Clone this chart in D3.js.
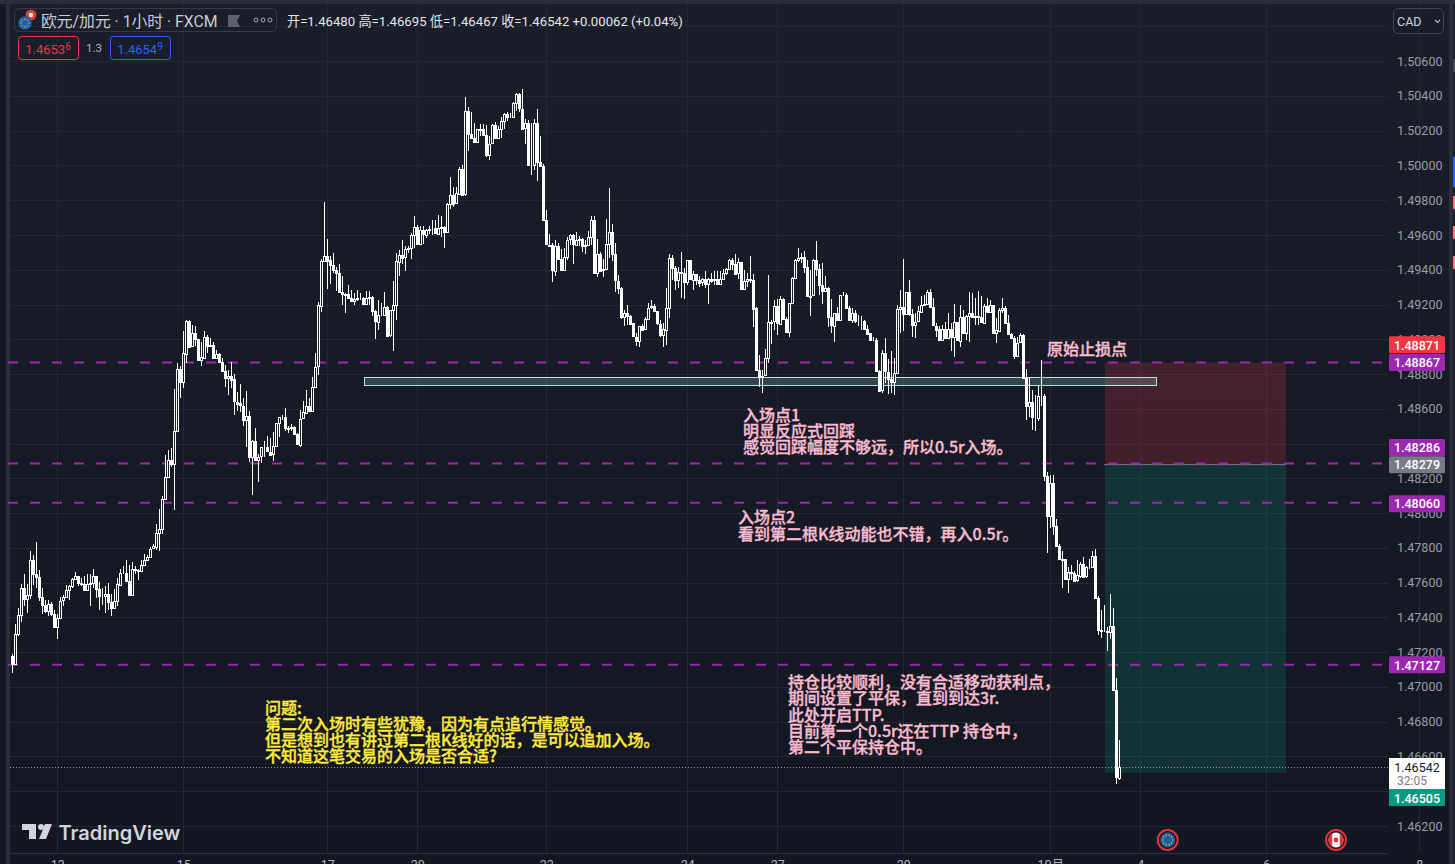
<!DOCTYPE html>
<html><head><meta charset="utf-8">
<style>html,body{margin:0;padding:0;background:#131722;overflow:hidden}svg{display:block}
text{font-family:Roboto,"Noto Sans CJK SC",sans-serif}
.cjk{font-family:"Noto Sans CJK SC",sans-serif}</style>
<script src="https://cdn.jsdelivr.net/npm/d3@7/dist/d3.min.js"></script></head><body>
<script>
// Candle values, in 0.00001 price points, one entry per hour
const firstOpen = 147180;
const closes = [
147132,147305,147415,147570,147505,147530,147732,147651,147632,147517,
147472,147436,147478,147420,147344,147397,147497,147517,147559,147580,
147622,147640,147599,147593,147559,147593,147597,147640,147565,147522,
147522,147536,147488,147455,147494,147590,147657,147657,147609,147528,
147680,147674,147668,147703,147732,147747,147795,147809,147888,147911,
148084,148209,148305,148282,148474,148828,148751,148920,149107,148959,
149036,149001,148878,148897,149016,148962,148968,148895,148916,148872,
148820,148780,148791,148770,148641,148632,148618,148540,148561,148324,
148417,148309,148324,148378,148378,148353,148338,148386,148517,148551,
148551,148486,148490,148494,148453,148396,148544,148580,148618,148590,
148728,148843,149195,149453,149481,149455,149426,149397,149381,149270,
149257,149260,149237,149222,149232,149235,149235,149203,149237,149243,
149160,149103,149141,149141,149185,149020,149166,149195,149449,149487,
149472,149520,149526,149599,149645,149545,149627,149602,149631,149637,
149639,149608,149641,149646,149616,149779,149831,149781,149839,149981,
149833,150313,150179,150156,150131,150208,150212,150175,150060,150125,
150231,150158,150208,150256,150298,150279,150279,150358,150410,150327,
150213,150242,150002,150002,150246,150021,149996,149685,149545,149541,
149397,149539,149464,149400,149473,149573,149598,149545,149573,149579,
149541,149545,149589,149689,149385,149493,149397,149404,149550,149618,
149489,149337,149295,149127,149151,149135,149091,149016,148993,149079,
149058,149118,149183,149189,149160,149089,149026,149058,149183,149468,
149410,149343,149387,149381,149329,149454,149343,149377,149343,149327,
149347,149318,149348,149339,149347,149318,149347,149381,149404,149458,
149433,149377,149443,149285,149333,149347,149343,149179,148824,148785,
148791,148891,149099,149102,149189,149089,149231,149116,149039,149208,
149352,149458,149468,149473,149416,149247,149252,149454,149404,149310,
149275,149295,149127,149079,149151,149112,149254,149254,149179,149112,
149154,149108,149108,149108,149062,149035,148997,148997,148820,148705,
148920,148814,148772,148753,148805,149174,149185,149145,149272,149145,
149083,149102,149160,149199,149204,149272,149185,149079,149058,148997,
149058,149006,149058,149012,149099,148993,149131,149039,149135,149154,
149131,149135,149127,149097,149193,149158,149197,149035,149051,149170,
149179,149093,149031,149006,148904,148981,149024,148776,148613,148638,
148551,148551,148676,148676,148215,147984,148174,147926,147809,147734,
147738,147623,147661,147657,147613,147642,147709,147636,147690,147690,
147752,147510,147328,147324,147324,147318,147353,146983,146480,146542];
const highs = [
147190,147363,147455,147590,147647,147593,147780,147757,147832,147670,
147567,147503,147503,147486,147440,147420,147520,147528,147584,147584,
147628,147659,147640,147628,147636,147651,147651,147680,147640,147603,
147567,147578,147599,147532,147561,147628,147680,147693,147728,147699,
147717,147693,147680,147728,147763,147757,147805,147820,147936,148022,
148098,148334,148363,148372,148713,148863,148847,149049,149112,149112,
149084,149074,149001,148987,149045,149026,149007,148982,148939,148920,
148891,148853,148824,148872,148801,148699,148741,148661,148703,148588,
148420,148492,148338,148378,148415,148444,148430,148468,148517,148555,
148565,148603,148501,148511,148501,148459,148593,148647,148709,148661,
148786,148920,149212,149464,149791,149578,149478,149497,149416,149433,
149362,149266,149314,149285,149266,149285,149266,149243,149276,149276,
149247,149170,149228,149209,149272,149189,149166,149333,149497,149512,
149574,149535,149539,149612,149712,149660,149654,149650,149635,149650,
149689,149689,149718,149712,149650,149785,149935,149877,149877,149989,
150000,150392,150338,150310,150246,150212,150237,150237,150231,150169,
150237,150250,150227,150281,150304,150308,150304,150367,150419,150415,
150442,150269,150262,150242,150265,150323,150169,150006,149746,149608,
149554,149573,149554,149522,149525,149589,149608,149608,149616,149593,
149583,149570,149621,149712,149712,149577,149500,149464,149693,149868,
149666,149554,149372,149300,149166,149199,149141,149093,149035,149079,
149089,149127,149208,149227,149204,149164,149112,149093,149295,149493,
149487,149420,149416,149502,149410,149458,149458,149391,149377,149362,
149352,149391,149352,149381,149395,149391,149395,149404,149410,149462,
149468,149493,149468,149443,149400,149381,149477,149377,149185,148910,
148824,148943,149372,149112,149224,149231,149247,149237,149131,149208,
149356,149462,149525,149496,149506,149454,149400,149462,149568,149433,
149439,149362,149300,149231,149151,149185,149256,149272,149266,149193,
149179,149170,149141,149135,149112,149083,149039,149016,149006,148824,
148939,149010,148887,148930,148891,149199,149281,149464,149275,149343,
149174,149151,149193,149250,149256,149281,149289,149237,149093,149074,
149083,149102,149151,149093,149204,149102,149199,149170,149141,149272,
149266,149237,149279,149247,149204,149237,149224,149174,149122,149179,
149237,149189,149141,149039,149020,149016,149039,149031,148830,148786,
148709,148680,148738,148882,148686,148234,148222,148219,147969,147825,
147782,147738,147690,147700,147665,147728,147719,147748,147694,147738,
147782,147796,147526,147443,147474,147343,147532,147455,147053,146695];
const lows = [
147078,147132,147292,147372,147463,147424,147505,147584,147569,147497,
147417,147424,147411,147411,147344,147273,147397,147463,147517,147503,
147570,147613,147578,147582,147559,147559,147463,147570,147511,147440,
147469,147424,147440,147407,147447,147465,147584,147651,147609,147528,
147528,147647,147613,147668,147703,147732,147741,147791,147786,147782,
147878,148084,148209,148267,148016,148474,148661,148718,148863,148959,
148959,148959,148878,148849,148897,148920,148959,148895,148895,148866,
148820,148728,148680,148718,148565,148590,148584,148501,148382,148295,
148107,148305,148180,148286,148324,148353,148338,148301,148382,148436,
148536,148474,148459,148470,148453,148396,148382,148544,148580,148582,
148590,148728,148795,149155,149453,149291,149320,149381,149276,149266,
149195,149151,149237,149222,149199,149218,149228,149199,149203,149199,
149132,149003,149051,149132,149147,149016,149016,148930,149109,149366,
149435,149391,149497,149464,149526,149545,149577,149550,149581,149608,
149602,149608,149602,149589,149525,149616,149750,149762,149781,149833,
149833,149827,150083,150150,150131,150131,150169,150175,150048,150031,
150125,150158,150158,150160,150208,150256,150275,150273,150313,150310,
150210,150121,150002,149948,149973,149910,149992,149683,149545,149535,
149327,149366,149464,149397,149400,149454,149545,149435,149541,149535,
149504,149493,149541,149545,149385,149356,149397,149356,149400,149468,
149448,149272,149262,149116,149074,149083,149083,149012,148962,148953,
149058,149058,149118,149174,149160,149085,149016,148954,148968,149122,
149343,149285,149295,149237,149231,149314,149339,149285,149314,149300,
149304,149295,149204,149323,149314,149314,149314,149343,149372,149400,
149397,149377,149348,149285,149281,149300,149323,149068,148820,148728,
148689,148791,148862,148974,149054,149024,149089,149112,149035,149016,
149208,149352,149445,149439,149381,149243,149135,149247,149362,149256,
149204,149270,149070,149039,148987,149108,149108,149247,149174,149103,
149093,149093,149074,149054,149062,149031,148993,148993,148816,148701,
148693,148747,148683,148689,148680,148805,149035,149049,149141,149135,
149012,149010,149097,149151,149193,149199,149179,149074,149016,148993,
148993,149002,149016,148930,148901,148993,148954,149035,148997,148987,
149127,149083,149083,149093,149093,149151,149154,149031,148977,149045,
149151,149089,149026,149002,148889,148901,148977,148772,148536,148555,
148478,148474,148530,148618,148186,147771,147915,147873,147805,147728,
147572,147617,147538,147613,147610,147604,147628,147632,147628,147680,
147690,147507,147301,147280,147314,147205,147276,146977,146440,146467];
const opens = [firstOpen, ...closes.slice(0, -1)];

const priceLabels = [1.506,1.504,1.502,1.5,1.498,1.496,1.494,1.492,1.49,1.488,1.486,1.484,1.482,1.48,1.478,1.476,1.474,1.472,1.47,1.468,1.466,1.464,1.462];
const gridPrices = [1.508, ...priceLabels];
const timeLabels = ["13","15","17","20","22","24","27","29","10月","4","6","8"];
const timeIndex = [15,57,105,135,178,225,255,297,346,376,418,469];
const dashedLevels = [1.48867,1.48286,1.4806,1.47127];
const entryPrice = 1.48279, stopPrice = 1.48867, targetPrice = 1.46505;
const lastPrice = 1.46542;
const zoneTop = 1.48786;

const badges = [
 {t:"1.48871",c:"#f23645",p:1.48871,s:-17},
 {t:"1.48867",c:"#9c27b0",p:1.48867,s:0},
 {t:"1.48286",c:"#9c27b0",p:1.48286,s:-16},
 {t:"1.48279",c:"#787b86",p:1.48279,s:0},
 {t:"1.48060",c:"#9c27b0",p:1.4806,s:1},
 {t:"1.47127",c:"#9c27b0",p:1.47127,s:0}];

const W=1455,H=864;
const svg=d3.select("body").append("svg").attr("width",W).attr("height",H);
const y=d3.scaleLinear().domain([1.506,1.462]).range([61.2,826]);
const x=d3.scaleLinear().domain([0,369]).range([12.3,1119.3]);
const crisp=v=>Math.round(v)+0.5;

// background
const defs=svg.append("defs");
const g0=defs.append("linearGradient").attr("id","bg").attr("x1",0).attr("x2",0).attr("y1",0).attr("y2",1);
g0.append("stop").attr("offset",0).attr("stop-color","#1a1e2a");
g0.append("stop").attr("offset",1).attr("stop-color","#131722");
svg.append("rect").attr("width",W).attr("height",H).attr("fill","url(#bg)");
svg.append("rect").attr("width",W).attr("height",4).attr("fill","#2a2e39");
svg.append("rect").attr("x",0).attr("y",4).attr("width",6).attr("height",H).attr("fill","#131722");
svg.append("rect").attr("x",6).attr("y",4).attr("width",4).attr("height",H).attr("fill","#2a2e39");
svg.append("rect").attr("x",1449).attr("y",4).attr("width",4).attr("height",H).attr("fill","#2a2e39");
svg.append("rect").attr("x",1453).attr("y",4).attr("width",2).attr("height",H).attr("fill","#1c2030");

const sideMarks=[[59,13,"#434651"],[157,30,"#2962ff"],[196,13,"#f77c80"],[226,13,"#f77c80"],[256,13,"#f77c80"]];
svg.append("g").selectAll("rect").data(sideMarks).join("rect")
 .attr("x",1453).attr("width",2).attr("y",d=>d[0]).attr("height",d=>d[1]).attr("fill",d=>d[2]);

// grid
const gridC="#242833";
svg.append("g").selectAll("line").data(gridPrices).join("line")
 .attr("x1",10).attr("x2",1388).attr("y1",d=>crisp(y(d))).attr("y2",d=>crisp(y(d)))
 .attr("stroke",gridC);
svg.append("g").selectAll("line").data(timeIndex).join("line")
 .attr("x1",d=>crisp(x(d))).attr("x2",d=>crisp(x(d))).attr("y1",4).attr("y2",853)
 .attr("stroke",gridC);
svg.append("line").attr("x1",10).attr("x2",1388).attr("y1",853.5).attr("y2",853.5).attr("stroke","#2f333e");

// price axis
const yAxis=d3.axisRight(y).tickValues(priceLabels).tickSize(0).tickPadding(9).tickFormat(d3.format(".5f"));
const ya=svg.append("g").attr("transform","translate(1388,0)").call(yAxis);
ya.select(".domain").remove();
ya.selectAll("text").attr("fill","#9a9da6").style("font-size","12.5px").style("font-family","Roboto,sans-serif");

// time axis
const xAxis=d3.axisBottom(x).tickValues(timeIndex).tickSize(0).tickPadding(0)
 .tickFormat((d,i)=>timeLabels[i]);
const xa=svg.append("g").attr("transform","translate(0,860)").call(xAxis);
xa.select(".domain").remove();
xa.selectAll("text").attr("fill","#b2b5be").style("font-size","12.5px").style("font-family","Roboto,'Noto Sans CJK SC',sans-serif");

// position tool
const bx0=1105,bx1=1286;
svg.append("rect").attr("x",bx0).attr("width",bx1-bx0).attr("y",y(stopPrice)).attr("height",y(entryPrice)-y(stopPrice))
 .attr("fill","#f23645").attr("fill-opacity",.2);
svg.append("rect").attr("x",bx0).attr("width",bx1-bx0).attr("y",y(entryPrice)).attr("height",y(targetPrice)-y(entryPrice))
 .attr("fill","#089981").attr("fill-opacity",.2);
svg.append("line").attr("x1",bx0-1).attr("x2",bx1).attr("y1",y(entryPrice)).attr("y2",y(entryPrice))
 .attr("stroke","#787b86").attr("stroke-width",1);

// dashed levels
svg.append("g").selectAll("line").data(dashedLevels).join("line")
 .attr("x1",8).attr("x2",1388).attr("y1",d=>y(d)).attr("y2",d=>y(d))
 .attr("stroke","#9c27b0").attr("stroke-width",2).attr("stroke-dasharray","10 12");

// zone box
svg.append("rect").attr("x",364.5).attr("width",792).attr("y",crisp(y(zoneTop))).attr("height",8)
 .attr("fill","#b2ebf2").attr("fill-opacity",.2).attr("stroke","#aee8dc").attr("stroke-width",1);

// last price line
svg.append("line").attr("x1",10).attr("x2",1388).attr("y1",crisp(y(lastPrice))).attr("y2",crisp(y(lastPrice)))
 .attr("stroke","#9da0a8").attr("stroke-dasharray","1 2");

// candles
const candles=closes.map((c,i)=>({i,o:opens[i]/1e5,c:c/1e5,h:highs[i]/1e5,l:lows[i]/1e5}));
const cg=svg.append("g").attr("shape-rendering","crispEdges");
cg.selectAll("line").data(candles).join("line")
 .attr("x1",d=>crisp(x(d.i))).attr("x2",d=>crisp(x(d.i)))
 .attr("y1",d=>y(d.h)).attr("y2",d=>y(d.l)).attr("stroke","#ffffff").attr("stroke-width",1);
cg.selectAll("rect").data(candles).join("rect")
 .attr("x",d=>crisp(x(d.i))-1)
 .attr("width",2)
 .attr("y",d=>crisp(y(Math.max(d.o,d.c))))
 .attr("height",d=>Math.max(0,Math.round(y(Math.min(d.o,d.c))-y(Math.max(d.o,d.c)))))
 .attr("fill",d=>d.c<d.o?"#ffffff":"#161a25")
 .attr("stroke","#ffffff").attr("stroke-width",1);

// annotations
const pinkNotes=[
 {x:1047,y:348,t:"原始止损点"},
 {x:743,y:414,t:"入场点1"},{x:743,y:430,t:"明显反应式回踩"},{x:743,y:446,t:"感觉回踩幅度不够远，所以0.5r入场。"},
 {x:738,y:516,t:"入场点2"},{x:738,y:532.5,t:"看到第二根K线动能也不错，再入0.5r。"},
 {x:788,y:681,t:"持仓比较顺利，没有合适移动获利点，"},{x:788,y:697,t:"期间设置了平保，直到到达3r."},
 {x:788,y:714,t:"此处开启TTP."},{x:788,y:730,t:"目前第一个0.5r还在TTP 持仓中，"},{x:788,y:746,t:"第二个平保持仓中。"}];
const yellowNotes=[
 {x:265,y:707,t:"问题:"},{x:265,y:723,t:"第二次入场时有些犹豫，因为有点追行情感觉。"},
 {x:265,y:739,t:"但是想到也有讲过第二根K线好的话，是可以追加入场。"},{x:265,y:755,t:"不知道这笔交易的入场是否合适?"}];
function notes(data,c){
 svg.append("g").selectAll("text").data(data).join("text").attr("class","cjk")
  .attr("x",d=>d.x).attr("y",d=>d.y).attr("dominant-baseline","central")
  .attr("fill",c).attr("stroke",c).attr("stroke-width",.35)
  .style("font-size","16px").style("font-weight",500).text(d=>d.t);
}
notes(pinkNotes,"#f8bbd0");
notes(yellowNotes,"#ffeb3b");

// badges
const bg=svg.append("g").selectAll("g").data(badges).join("g")
 .attr("transform",d=>`translate(1389,${y(d.p)+d.s-8.5})`);
bg.append("rect").attr("width",56).attr("height",17).attr("rx",1.5).attr("fill",d=>d.c);
bg.append("text").attr("x",28).attr("y",8.8).attr("text-anchor","middle").attr("dominant-baseline","central")
 .attr("fill","#fff").style("font-size","12.5px").style("font-weight",500).text(d=>d.t);
// last price label
svg.append("rect").attr("x",1389).attr("y",758).attr("width",56).attr("height",31).attr("fill","#fff");
svg.append("text").attr("x",1417).attr("y",767).attr("text-anchor","middle").attr("dominant-baseline","central")
 .attr("fill","#131722").style("font-size","12.5px").text("1.46542");
svg.append("text").attr("x",1397).attr("y",781).attr("dominant-baseline","central")
 .attr("fill","#787b86").style("font-size","12px").text("32:05");
svg.append("rect").attr("x",1389).attr("y",789).attr("width",56).attr("height",17).attr("fill","#089981");
svg.append("text").attr("x",1417).attr("y",798).attr("text-anchor","middle").attr("dominant-baseline","central")
 .attr("fill","#fff").style("font-size","12.5px").style("font-weight",500).text("1.46505");

// header
svg.append("rect").attr("x",14.5).attr("y",8.5).attr("width",262).attr("height",23).attr("rx",5)
 .attr("fill","none").attr("stroke","#363a45");
svg.append("circle").attr("cx",31).attr("cy",15).attr("r",5.5).attr("fill","#e03a3e");
svg.append("circle").attr("cx",31).attr("cy",15).attr("r",2.2).attr("fill","#fff");
svg.append("circle").attr("cx",25).attr("cy",23).attr("r",6.8).attr("fill","#1f5fa8");
d3.range(8).forEach(k=>svg.append("circle").attr("cx",25+4*Math.cos(k*Math.PI/4)).attr("cy",23+4*Math.sin(k*Math.PI/4)).attr("r",.7).attr("fill","#f5d327"));
svg.append("text").attr("x",41).attr("y",21).attr("dominant-baseline","central").attr("fill","#c8cbd3")
 .style("font-size","15.8px").text("欧元/加元 · 1小时 · FXCM");
svg.append("path").attr("d","M228 15h12l-3 6l3 6h-12z").attr("fill","#5d606b");
[256,263,270].forEach(cx=>svg.append("circle").attr("cx",cx).attr("cy",20).attr("r",2).attr("fill","none").attr("stroke","#a3a6af"));
svg.append("text").attr("x",287).attr("y",21).attr("dominant-baseline","central").attr("fill","#e4e6eb")
 .style("font-size","13.15px").text("开=1.46480 高=1.46695 低=1.46467 收=1.46542 +0.00062 (+0.04%)");
function quote(x0,w,c,main,sup){
 svg.append("rect").attr("x",x0+.5).attr("y",36.5).attr("width",w).attr("height",23).attr("rx",3).attr("fill","none").attr("stroke",c);
 const t=svg.append("text").attr("x",x0+w/2).attr("y",48.5).attr("text-anchor","middle").attr("dominant-baseline","central").attr("fill",c).style("font-size","13px");
 t.append("tspan").text(main);
 t.append("tspan").attr("dy",-3).style("font-size","10px").text(sup);
}
quote(18,60,"#f23645","1.4653","6");
quote(110,60,"#2962ff","1.4654","9");
svg.append("text").attr("x",94).attr("y",48).attr("text-anchor","middle").attr("dominant-baseline","central").attr("fill","#b2b5be").style("font-size","11.5px").text("1.3");

// currency button
svg.append("rect").attr("x",1393.5).attr("y",8.5).attr("width",50).attr("height",25).attr("rx",5).attr("fill","none").attr("stroke","#434651");
svg.append("text").attr("x",1397).attr("y",21).attr("dominant-baseline","central").attr("fill","#d1d4dc").style("font-size","12.5px").text("CAD");
svg.append("path").attr("d","M1435 20l2.5 2.5l2.5-2.5").attr("fill","none").attr("stroke","#b2b5be").attr("stroke-width",1.2);

// logo
const logoC="#d1d4dc";
svg.append("path").attr("d","M22 824h14v15h-7v-9h-7z").attr("fill",logoC);
svg.append("circle").attr("cx",41).attr("cy",827).attr("r",3).attr("fill",logoC);
svg.append("path").attr("d","M45 824h7l-6 15h-7z").attr("fill",logoC);
svg.append("text").attr("x",58.5).attr("y",833).attr("dominant-baseline","central").attr("fill",logoC)
 .style("font-family","Inter,sans-serif").style("font-size","20px").style("font-weight",600).text("TradingView");

// event icons
function eventIcon(cx,kind){
 const cy=840;
 svg.append("circle").attr("cx",cx).attr("cy",cy).attr("r",10).attr("fill","#131722").attr("stroke","#e0323f").attr("stroke-width",2);
 if(kind==="eu"){
  svg.append("circle").attr("cx",cx).attr("cy",cy).attr("r",7.5).attr("fill","#1f5fa8");
  d3.range(10).forEach(k=>svg.append("circle").attr("cx",cx+5*Math.cos(k*Math.PI/5)).attr("cy",cy+5*Math.sin(k*Math.PI/5)).attr("r",.8).attr("fill","#f5d327"));
 } else {
  svg.append("circle").attr("cx",cx).attr("cy",cy).attr("r",7.5).attr("fill","#f2f2f2");
  svg.append("path").attr("d",`M${cx-7.4} ${cy-1.5}A7.5 7.5 0 0 1 ${cx-3.8} ${cy-6.4}V${cy+6.4}A7.5 7.5 0 0 1 ${cx-7.4} ${cy+1.5}Z`).attr("fill","#e0323f");
  svg.append("path").attr("d",`M${cx+7.4} ${cy-1.5}A7.5 7.5 0 0 0 ${cx+3.8} ${cy-6.4}V${cy+6.4}A7.5 7.5 0 0 0 ${cx+7.4} ${cy+1.5}Z`).attr("fill","#e0323f");
  svg.append("circle").attr("cx",cx).attr("cy",cy).attr("r",2.4).attr("fill","#e0323f");
 }
}
eventIcon(1167.7,"eu");
eventIcon(1336,"ca");
</script></body></html>
